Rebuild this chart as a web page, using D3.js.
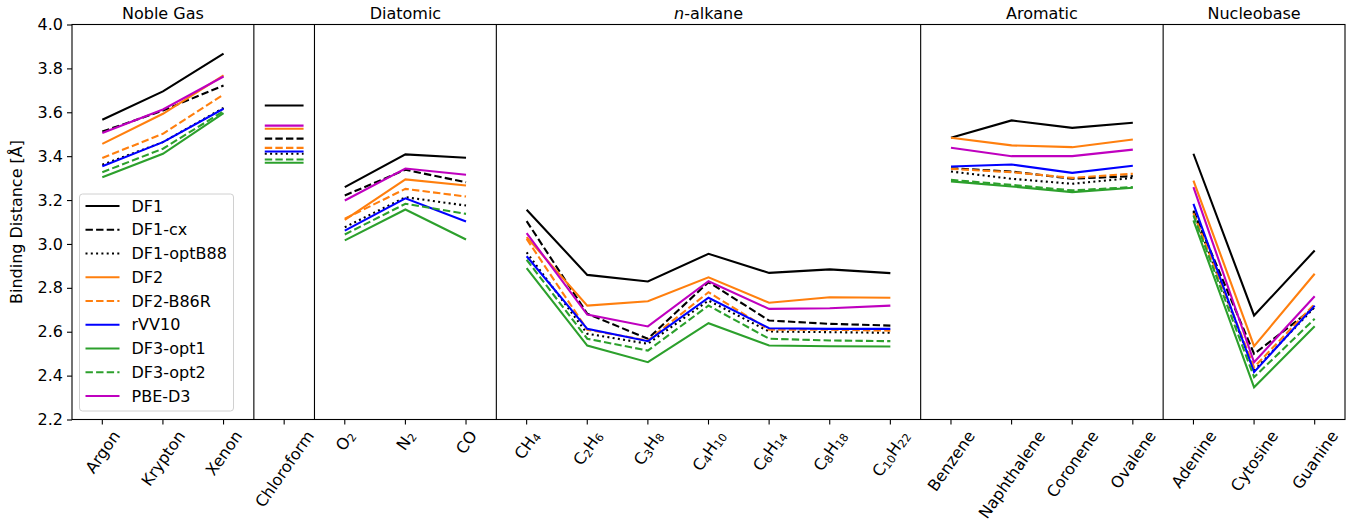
<!DOCTYPE html>
<html>
<head>
<meta charset="utf-8">
<script src="https://cdn.jsdelivr.net/npm/d3@7"></script>
<style>
  body { margin: 0; background: #fff; }
  text { font-family: "DejaVu Sans", sans-serif; }
</style>
</head>
<body>
<div id="chart"></div>
<script>
// categories; digits are drawn as subscripts
var categories = ["Argon", "Krypton", "Xenon", "Chloroform", "O2", "N2", "CO",
  "CH4", "C2H6", "C3H8", "C4H10", "C6H14", "C8H18", "C10H22",
  "Benzene", "Naphthalene", "Coronene", "Ovalene", "Adenine", "Cytosine", "Guanine"];
var groupNames = ["Noble Gas", "", "Diatomic", "n-alkane", "Aromatic", "Nucleobase"];
var groupStarts = [0, 3, 4, 7, 14, 18];
var groupEnds = [3, 4, 7, 14, 18, 21];
var yTicks = [2.2, 2.4, 2.6, 2.8, 3.0, 3.2, 3.4, 3.6, 3.8, 4.0];

var seriesNames = ["DF1", "DF1-cx", "DF1-optB88", "DF2", "DF2-B86R", "rVV10", "DF3-opt1", "DF3-opt2", "PBE-D3"];
var df1 = [3.566, 3.695, 3.867, 3.631, 3.259, 3.408, 3.393, 3.156, 2.859, 2.829, 2.955, 2.868, 2.884, 2.867, 3.484, 3.563, 3.529, 3.552, 3.411, 2.674, 2.970];
var df1cx = [3.512, 3.608, 3.722, 3.480, 3.221, 3.338, 3.281, 3.104, 2.682, 2.568, 2.826, 2.651, 2.636, 2.628, 3.345, 3.330, 3.297, 3.309, 3.152, 2.499, 2.712];
var df1optb88 = [3.361, 3.464, 3.620, 3.411, 3.076, 3.213, 3.175, 2.962, 2.591, 2.545, 2.742, 2.601, 2.598, 2.595, 3.330, 3.297, 3.274, 3.301, 3.145, 2.423, 2.712];
var df2 = [3.456, 3.593, 3.768, 3.525, 3.110, 3.294, 3.266, 3.031, 2.719, 2.739, 2.848, 2.732, 2.757, 2.755, 3.484, 3.449, 3.441, 3.476, 3.289, 2.534, 2.864];
var df2b86r = [3.392, 3.502, 3.681, 3.438, 3.115, 3.251, 3.216, 3.023, 2.609, 2.560, 2.780, 2.609, 2.609, 2.605, 3.342, 3.327, 3.301, 3.320, 3.140, 2.438, 2.727];
var rvv10 = [3.354, 3.464, 3.616, 3.421, 3.061, 3.208, 3.102, 2.944, 2.613, 2.557, 2.755, 2.616, 2.613, 2.613, 3.353, 3.362, 3.324, 3.356, 3.183, 2.416, 2.719];
var df3opt1 = [3.304, 3.411, 3.596, 3.370, 3.016, 3.157, 3.020, 2.890, 2.537, 2.461, 2.639, 2.537, 2.534, 2.533, 3.285, 3.262, 3.236, 3.256, 3.107, 2.347, 2.625];
var df3opt2 = [3.327, 3.434, 3.605, 3.385, 3.043, 3.183, 3.137, 2.928, 2.568, 2.514, 2.719, 2.568, 2.560, 2.557, 3.292, 3.269, 3.244, 3.259, 3.130, 2.393, 2.659];
var pbed3 = [3.506, 3.613, 3.763, 3.539, 3.198, 3.344, 3.315, 3.049, 2.678, 2.624, 2.830, 2.704, 2.707, 2.719, 3.438, 3.400, 3.400, 3.430, 3.259, 2.461, 2.762];

var seriesValues = [df1, df1cx, df1optb88, df2, df2b86r, rvv10, df3opt1, df3opt2, pbed3];
var colors = ["#000000", "#000000", "#000000", "#ff7f0e", "#ff7f0e", "#0000ff", "#2ca02c", "#2ca02c", "#bf00bf"];
var dashes = [null, "7.4,3.2", "2,3.3", null, "7.4,3.2", null, null, "7.4,3.2", null];

var w = 1360, h = 523,
    mLeft = 72, mRight = 1345, mTop = 24.5, mBottom = 419.5,
    fs = 16;

var svg = d3.select("#chart").append("svg")
  .attr("width", w).attr("height", h);

var x = d3.scaleLinear().domain([-0.5, 20.5]).range([mLeft, mRight]);
var y = d3.scaleLinear().domain([2.2, 4.0]).range([mBottom, mTop]);

// lines, one path per group per series
var line = d3.line().x(function(d) { return x(d[0]); }).y(function(d) { return y(d[1]); });
seriesValues.forEach(function(vals, s) {
  groupStarts.forEach(function(g0, gi) {
    var g1 = groupEnds[gi];
    var pts = [];
    if (g1 - g0 == 1) {
      // single-member group: short horizontal mark
      pts = [[g0 - 0.32, vals[g0]], [g0 + 0.32, vals[g0]]];
    } else {
      for (var i = g0; i < g1; i++) pts.push([i, vals[i]]);
    }
    svg.append("path")
      .attr("d", line(pts))
      .attr("fill", "none")
      .attr("stroke", colors[s])
      .attr("stroke-width", 2.1)
      .attr("stroke-dasharray", dashes[s]);
  });
});

// group separators
groupStarts.slice(1).forEach(function(g) {
  svg.append("line")
    .attr("x1", x(g - 0.5)).attr("x2", x(g - 0.5))
    .attr("y1", mTop).attr("y2", mBottom)
    .attr("stroke", "#000").attr("stroke-width", 1.1);
});

// frame
svg.append("rect")
  .attr("x", mLeft).attr("y", mTop)
  .attr("width", mRight - mLeft).attr("height", mBottom - mTop)
  .attr("fill", "none").attr("stroke", "#000").attr("stroke-width", 1.1);

// y axis
var yAxis = svg.append("g").attr("transform", "translate(" + mLeft + ",0)")
  .call(d3.axisLeft(y).tickValues(yTicks).tickFormat(d3.format(".1f")).tickSize(5).tickPadding(4));
yAxis.select(".domain").remove();
yAxis.selectAll("text").attr("font-size", fs).attr("fill", "#000").attr("font-family", "DejaVu Sans");
yAxis.selectAll("line").attr("stroke", "#000").attr("stroke-width", 1.1);

svg.append("text")
  .attr("transform", "translate(22," + ((mTop + mBottom) / 2) + ") rotate(-90)")
  .attr("text-anchor", "middle")
  .attr("font-size", fs)
  .text("Binding Distance [Å]");

// x ticks
var xAxis = svg.append("g").attr("transform", "translate(0," + mBottom + ")");
categories.forEach(function(c, i) {
  xAxis.append("line")
    .attr("x1", x(i)).attr("x2", x(i))
    .attr("y1", 0).attr("y2", 5)
    .attr("stroke", "#000").attr("stroke-width", 1.1);
});

// x labels, rotated with the bounding box centred under the tick
var angle = 55, rad = angle * Math.PI / 180;
categories.forEach(function(c, i) {
  var parts = c.match(/[A-Za-z]+|\d+/g);
  var t = svg.append("text")
    .attr("font-size", fs)
    .attr("text-anchor", "middle")
    .attr("dominant-baseline", "central");
  parts.forEach(function(p) {
    if (/^\d+$/.test(p)) {
      t.append("tspan").attr("font-size", fs * 0.7).attr("dy", 4).text(p);
      t.append("tspan").attr("dy", -4).text("\u200b");
    } else {
      t.append("tspan").text(p);
    }
  });
  var L = t.node().getComputedTextLength();
  var bh = L * Math.sin(rad) + fs * 1.05 * Math.cos(rad);
  var cx = x(i), cy = mBottom + 8 + bh / 2;
  t.attr("transform", "translate(" + cx + "," + cy + ") rotate(-" + angle + ")");
});

// group titles
groupNames.forEach(function(n, gi) {
  if (!n) return;
  var mid = (groupStarts[gi] + groupEnds[gi] - 1) / 2;
  var t = svg.append("text")
    .attr("x", x(mid)).attr("y", 19)
    .attr("text-anchor", "middle")
    .attr("font-size", fs);
  if (n.indexOf("n-") == 0) {
    t.append("tspan").attr("font-style", "italic").text("n");
    t.append("tspan").text(n.slice(1));
  } else {
    t.text(n);
  }
});

// legend
var lg = svg.append("g").attr("transform", "translate(79.5,194)");
lg.append("rect")
  .attr("width", 154).attr("height", 217)
  .attr("rx", 3)
  .attr("fill", "#fff").attr("fill-opacity", 0.8)
  .attr("stroke", "#d0d0d0").attr("stroke-width", 1);
seriesNames.forEach(function(n, s) {
  var yy = 12 + s * 23.75;
  lg.append("line")
    .attr("x1", 6).attr("x2", 40)
    .attr("y1", yy).attr("y2", yy)
    .attr("stroke", colors[s]).attr("stroke-width", 2.1)
    .attr("stroke-dasharray", dashes[s]);
  lg.append("text")
    .attr("x", 52).attr("y", yy)
    .attr("dominant-baseline", "central")
    .attr("font-size", fs)
    .text(n);
});
</script>
</body>
</html>
